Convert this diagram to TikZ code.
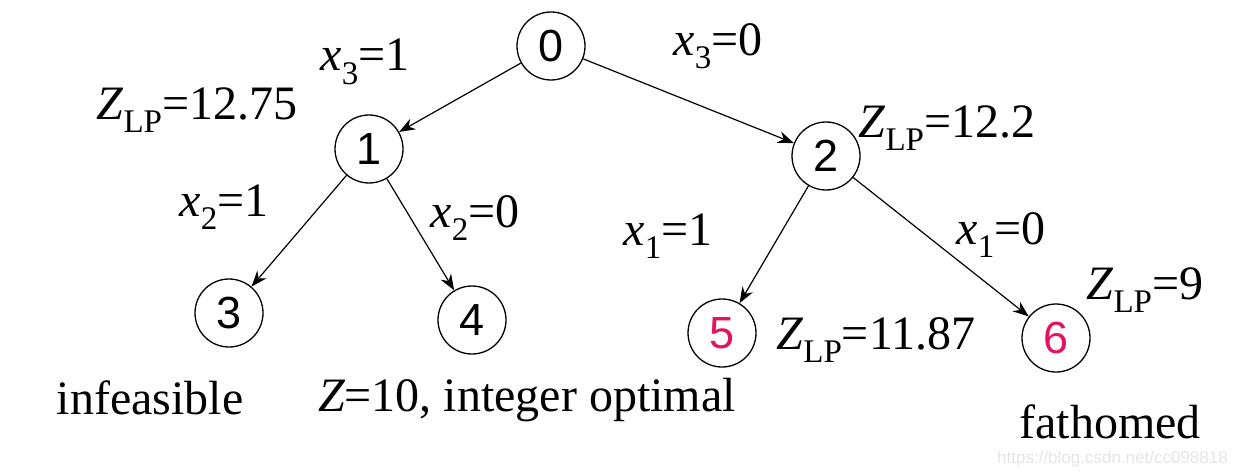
\documentclass[tikz,border=0pt]{standalone}
\usepackage{fontspec}
\setmainfont{Liberation Serif}
\newfontfamily\digitfont{Liberation Sans}
\usetikzlibrary{arrows.meta}
\definecolor{fathomred}{RGB}{228,18,98}
\newcommand\lowsub[1]{\raisebox{-0.28em}{\fontsize{33}{33}\selectfont #1}}
\newcommand\zlp{{\itshape Z}\lowsub{LP}}
\tikzset{
  bbnode/.style={draw,circle,line width=1.3pt,minimum size=68pt,inner sep=0pt,font=\digitfont\fontsize{45}{45}\selectfont},
  bbedge/.style={line width=1.2pt,-{Stealth[length=16pt,width=12pt]}},
  bblabel/.style={font=\fontsize{48}{56}\selectfont,inner sep=0pt}
}

\begin{document}
\begin{tikzpicture}[x=1pt,y=1pt,yscale=-1,xscale=1]
\useasboundingbox (0,0) rectangle (1238,473);

%Nodes
\node[bbnode] (n0) at (551,46) {0};
\node[bbnode] (n1) at (369,149) {1};
\node[bbnode] (n2) at (826,156) {2};
\node[bbnode] (n3) at (229,313) {3};
\node[bbnode] (n4) at (472,320) {4};
\node[bbnode,text=fathomred] (n5) at (722,333) {5};
\node[bbnode,text=fathomred] (n6) at (1056,338) {6};

%Branches
\draw[bbedge] (n0) -- (n1);
\draw[bbedge] (n0) -- (n2);
\draw[bbedge] (n1) -- (n3);
\draw[bbedge] (n1) -- (n4);
\draw[bbedge] (n2) -- (n5);
\draw[bbedge] (n2) -- (n6);

%Branch labels
\node[bblabel] (b01) at (365,62) {{\itshape x}\lowsub{3}=1};
\node[bblabel] (b02) at (718,46) {{\itshape x}\lowsub{3}=0};
\node[bblabel] (b13) at (224,207) {{\itshape x}\lowsub{2}=1};
\node[bblabel] (b14) at (475,218) {{\itshape x}\lowsub{2}=0};
\node[bblabel] (b25) at (668,236) {{\itshape x}\lowsub{1}=1};
\node[bblabel] (b26) at (1001,235) {{\itshape x}\lowsub{1}=0};

%LP values
\node[bblabel] (z1) at (197,110) {\zlp=12.75};
\node[bblabel] (z2) at (947,128) {\zlp=12.2};
\node[bblabel] (z5) at (876,340) {\zlp=11.87};
\node[bblabel] (z6) at (1145,290) {\zlp=9};

%Status
\node[bblabel] (s3) at (150,398) {infeasible};
\node[bblabel] (s4) at (527,400) {{\itshape Z}=10, integer optimal};
\node[bblabel,text depth=0pt,anchor=base] (s6) at (1110,438) {fathomed};

%Watermark
\node[font=\digitfont\fontsize{17}{17}\selectfont,text=black!10,anchor=east,inner sep=0pt] (wm) at (1228,459) {https://blog.csdn.net/cc098818};

\end{tikzpicture}
\end{document}
